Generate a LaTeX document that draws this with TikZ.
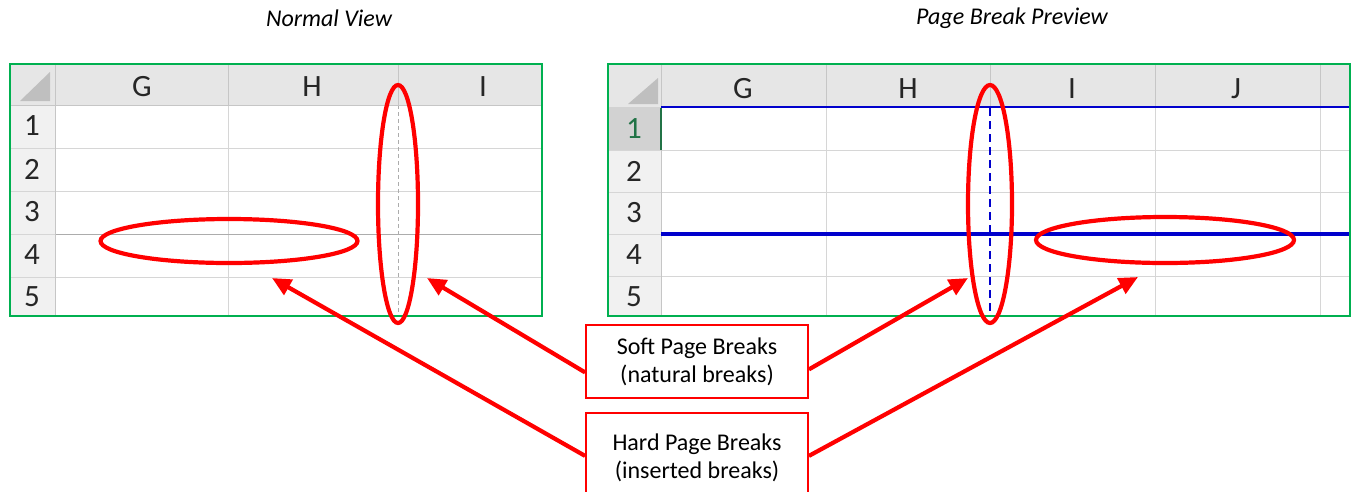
\documentclass[tikz,border=0pt]{standalone}
\usepackage{fontspec}
\setmainfont{Carlito}
\usetikzlibrary{shapes.geometric, arrows.meta, positioning, calc}
\definecolor{xlgreen}{HTML}{00B050}
\definecolor{hdrgray}{HTML}{E6E6E6}
\definecolor{gridgray}{HTML}{D6D6D6}
\definecolor{selgray}{HTML}{D2D2D2}
\definecolor{selgreen}{HTML}{217346}
\definecolor{pbblue}{HTML}{0000CC}
\tikzset{
  sheet/.style={draw=xlgreen,line width=1.8pt,inner sep=0pt,anchor=north west},
  hdr/.style={font=\fontsize{31}{32}\selectfont,text=black!85,inner sep=0pt},
  gridline/.style={draw=gridgray,line width=1pt},
  hdrline/.style={draw=gray!45,line width=1pt},
  brk/.style={ellipse,draw=red,line width=4.2pt,inner sep=0pt},
  note/.style={rectangle,draw=red,line width=1.8pt,minimum width=222pt,anchor=north,
    align=center,font=\fontsize{24}{28}\selectfont},
  pointer/.style={draw=red,line width=4.2pt,-{Triangle[length=19pt,width=17pt]}},
  viewtitle/.style={font=\fontsize{24}{26}\selectfont\itshape},
}
\begin{document}
\begin{tikzpicture}[x=1pt,y=-1pt]
	\useasboundingbox (0,0) rectangle (1351,491);
	\node[viewtitle] (nvtitle) at (329,18) {Normal View};
	\node[viewtitle] (pbtitle) at (1012,18) {Page Break Preview};

	% normal view
	\fill[hdrgray] (9,63) rectangle (541,105);
	\fill[hdrgray!55] (9,105) rectangle (55,315);
	\fill[gray!50] (20,101) -- (50,101) -- (50,72) -- cycle;
	\foreach \y in {148,191,277} \draw[gridline] (55,\y) -- (541,\y);
	\draw[gridline] (228,105) -- (228,315);
	\foreach \y in {148,191,234,277} \draw[gridline] (9,\y) -- (55,\y);
	\draw[hdrline] (228,63) -- (228,105);
	\draw[hdrline] (398,63) -- (398,105);
	\draw[draw=gray!65,line width=1pt] (55,234) -- (541,234);
	\draw[draw=gray!65,line width=1pt,dash pattern=on 4pt off 3pt] (398,105) -- (398,315);
	\draw[hdrline] (9,105) -- (541,105);
	\draw[hdrline] (55,63) -- (55,315);
	\foreach \c/\x in {G/142,H/312,I/483} \node[hdr] (nvc\c) at (\x,87) {\c};
	\foreach \r/\y in {1/126,2/169,3/212,4/255,5/297} \node[hdr] (nvr\r) at (32,\y) {\r};
	\node[sheet,minimum width=532pt,minimum height=252pt] (nv) at (9,63) {};

	% page break preview
	\fill[hdrgray] (607,63) rectangle (1349,107);
	\fill[hdrgray!55] (607,107) rectangle (661,315);
	\fill[selgray] (607,107) rectangle (661,150);
	\fill[gray!50] (628,104) -- (658,104) -- (658,78) -- cycle;
	\foreach \y in {150,192,276} \draw[gridline] (607,\y) -- (1349,\y);
	\foreach \x in {826,1155,1320} {
	  \draw[gridline] (\x,107) -- (\x,315);
	  \draw[hdrline] (\x,63) -- (\x,107);
	}
	\draw[hdrline] (990,63) -- (990,107);
	\draw[hdrline] (661,63) -- (661,315);
	\draw[gridline] (607,234) -- (661,234);
	\draw[pbblue,line width=2pt] (661,107) -- (1349,107);
	\draw[pbblue,line width=4pt] (661,234) -- (1349,234);
	\draw[pbblue,line width=2.2pt,dash pattern=on 8pt off 5pt] (990,108) -- (990,315);
	\draw[selgreen,line width=2.5pt] (661,108) -- (661,150);
	\foreach \c/\x in {G/743,H/908,I/1072,J/1236} \node[hdr] (pbc\c) at (\x,89) {\c};
	\node[hdr,text=selgreen] (pbr1) at (634,129) {1};
	\foreach \r/\y in {2/171,3/213,4/255,5/297} \node[hdr] (pbr\r) at (634,\y) {\r};
	\node[sheet,minimum width=742pt,minimum height=252pt] (pb) at (607,63) {};

	% marked breaks
	\node[brk,minimum width=257pt,minimum height=44pt] (nvrow) at (229,241) {};
	\node[brk,minimum width=40pt,minimum height=238pt] (nvcol) at (398,204) {};
	\node[brk,minimum width=44pt,minimum height=238pt] (pbcol) at (990,204) {};
	\node[brk,minimum width=258pt,minimum height=46pt] (pbrow) at (1165,240) {};

	\node[note,minimum height=73pt] (soft) at (697,324) {Soft Page Breaks\\(natural breaks)};
	\node[note,minimum height=90pt] (hard) at (697,412) {Hard Page Breaks\\(inserted breaks)};

	\coordinate (nvcoltip) at (427,278);
	\coordinate (nvrowtip) at (272,278);
	\coordinate (pbcoltip) at (968,278);
	\coordinate (pbrowtip) at (1138,277);
	\draw[pointer] ([yshift=-11pt]soft.west) -- (nvcoltip);
	\draw[pointer] ([yshift=2pt]hard.west) -- (nvrowtip);
	\draw[pointer] ([yshift=-8pt]soft.east) -- (pbcoltip);
	\draw[pointer] ([yshift=2pt]hard.east) -- (pbrowtip);
\end{tikzpicture}
\end{document}
